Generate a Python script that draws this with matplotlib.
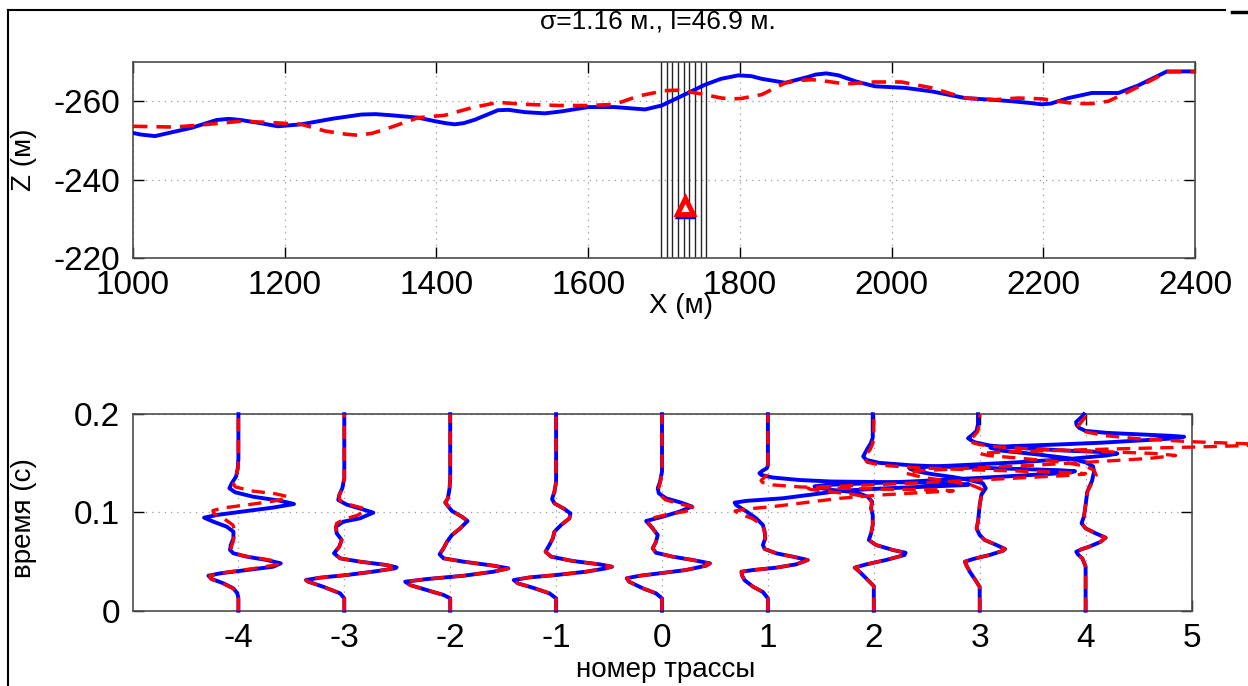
import matplotlib
matplotlib.use("Agg")
import matplotlib.pyplot as plt
import matplotlib.font_manager as fm
from matplotlib.lines import Line2D

# pick a narrow sans if it is there (the original looks condensed)
names = set(f.name for f in fm.fontManager.ttflist)
fam = 'Liberation Sans Narrow' if 'Liberation Sans Narrow' in names else 'Liberation Sans'
plt.rcParams['font.family'] = [fam, 'DejaVu Sans']
plt.rcParams['axes.unicode_minus'] = False

# ---------------- top panel: relief profiles ----------------
blue_x = [1000, 1010, 1029, 1077, 1110, 1126, 1142, 1165, 1191, 1222, 1262, 1301, 1320, 1341, 1376,
          1398, 1412, 1424, 1436, 1451, 1481, 1495, 1517, 1543, 1565, 1600, 1635, 1675, 1697, 1723,
          1754, 1775, 1798, 1815, 1829, 1860, 1890, 1900, 1914, 1930, 1952, 1978, 2018, 2053, 2097,
          2137, 2158, 2185, 2198, 2210, 2233, 2264, 2299, 2325, 2363, 2400]
blue_z = [-251.9, -251.5, -251.1, -253.2, -255.2, -255.5, -255.2, -254.5, -253.6, -254.1, -255.5,
          -256.6, -256.7, -256.4, -255.8, -254.9, -254.4, -254.1, -254.4, -255.3, -257.7, -257.8,
          -257.2, -256.9, -257.4, -258.5, -258.5, -257.9, -258.9, -261.3, -264.2, -265.7, -266.6,
          -266.4, -265.7, -264.7, -266.2, -266.8, -267.1, -266.6, -265.1, -263.8, -263.4, -262.5,
          -260.8, -260.3, -260.0, -259.5, -259.2, -259.4, -260.8, -262.1, -262.1, -264.0, -267.6,
          -267.6]

red_x = [1000, 1055, 1099, 1143, 1187, 1222, 1253, 1280, 1297, 1315, 1332, 1376, 1411, 1446, 1481,
         1517, 1561, 1600, 1635, 1666, 1701, 1719, 1745, 1776, 1790, 1802, 1829, 1860, 1880, 1895,
         1910, 1939, 1978, 2013, 2053, 2097, 2137, 2167, 2198, 2233, 2250, 2264, 2286, 2313, 2344,
         2363, 2400]
red_z = [-253.6, -253.4, -254.1, -254.9, -254.5, -254.1, -252.4, -251.6, -251.3, -251.8, -252.8,
         -255.8, -256.4, -258.3, -259.7, -259.2, -258.9, -258.9, -259.2, -261.3, -262.7, -262.8,
         -262.0, -260.8, -260.6, -260.7, -261.7, -264.7, -265.3, -265.5, -265.2, -264.4, -264.9,
         -264.9, -263.4, -260.8, -260.4, -260.8, -260.6, -259.6, -259.4, -259.4, -260.0, -262.5,
         -265.5, -267.5, -267.5]

receiver_x = [1696, 1703.5, 1711, 1718.5, 1726, 1733.5, 1741, 1748.5, 1756]
source_x, source_z = 1728, -233.2

# ---------------- bottom panel: traces (time, offset from trace number) ----------------
trace_nums = [-4, -3, -2, -1, 0, 1, 2, 3, 4]

blue_t = {
    -4: [0, 0.0126, 0.0177, 0.0227, 0.0278, 0.0322, 0.0356, 0.038, 0.0414, 0.0448, 0.0482, 0.0516,
         0.055, 0.0584, 0.0618, 0.0669, 0.0737, 0.0804, 0.0855, 0.0906, 0.0947, 0.0975, 0.1015,
         0.105, 0.1086, 0.112, 0.116, 0.1205, 0.1246, 0.1297, 0.1365, 0.145, 0.155, 0.2],
    -3: [0, 0.0126, 0.0177, 0.0244, 0.0295, 0.0312, 0.0336, 0.0363, 0.0397, 0.0431, 0.0441, 0.0465,
         0.0499, 0.0533, 0.0584, 0.0652, 0.072, 0.0788, 0.0855, 0.0906, 0.094, 0.0998, 0.104,
         0.108, 0.1127, 0.118, 0.1246, 0.135, 0.2],
    -2: [0, 0.0126, 0.016, 0.021, 0.026, 0.0295, 0.0322, 0.0356, 0.0397, 0.0431, 0.0458, 0.0499,
         0.0533, 0.0574, 0.0635, 0.070, 0.077, 0.0838, 0.0913, 0.0957, 0.1015, 0.110, 0.1144,
         0.1246, 0.135, 0.2],
    -1: [0, 0.0126, 0.0177, 0.0234, 0.0278, 0.0312, 0.0339, 0.0363, 0.0397, 0.0431, 0.0448, 0.0472,
         0.0506, 0.055, 0.060, 0.0669, 0.0737, 0.0804, 0.0872, 0.094, 0.099, 0.1035, 0.1093,
         0.1137, 0.1212, 0.131, 0.2],
    0: [0, 0.0126, 0.0177, 0.0227, 0.0295, 0.033, 0.0356, 0.038, 0.0414, 0.0458, 0.0482, 0.0516,
        0.055, 0.059, 0.0635, 0.070, 0.077, 0.0838, 0.0913, 0.0957, 0.1008, 0.106, 0.110, 0.1144,
        0.1195, 0.1246, 0.131, 0.1415, 0.2],
    1: [0, 0.0126, 0.019, 0.0244, 0.031, 0.036, 0.0397, 0.0414, 0.0438, 0.0472, 0.0516, 0.055,
        0.0584, 0.0628, 0.0669, 0.0737, 0.0804, 0.0872, 0.094, 0.1008, 0.1076, 0.110, 0.1118,
        0.1144, 0.118, 0.122, 0.1245, 0.1265, 0.1278, 0.1285, 0.1295, 0.1305, 0.131, 0.1315,
        0.133, 0.1355, 0.138, 0.140, 0.1425, 0.145, 0.148, 0.2],
    2: [0, 0.025, 0.0295, 0.0397, 0.0438, 0.0472, 0.0516, 0.0567, 0.059, 0.0618, 0.0669, 0.072,
        0.0788, 0.0872, 0.0974, 0.104, 0.111, 0.116, 0.1205, 0.123, 0.1255, 0.1265, 0.128, 0.1295,
        0.1315, 0.134, 0.137, 0.1395, 0.141, 0.142, 0.143, 0.1445, 0.146, 0.148, 0.1505, 0.1535,
        0.157, 0.161, 0.165, 0.170, 0.176, 0.2],
    3: [0, 0.024, 0.0295, 0.0397, 0.0472, 0.0499, 0.0526, 0.0567, 0.061, 0.0628, 0.0669, 0.072,
        0.077, 0.0838, 0.0906, 0.1076, 0.118, 0.1246, 0.1297, 0.133, 0.136, 0.139, 0.142, 0.1445,
        0.1465, 0.1485, 0.151, 0.1545, 0.158, 0.160, 0.1615, 0.163, 0.1655, 0.168, 0.1715, 0.1755,
        0.179, 0.183, 0.190, 0.2],
    4: [0, 0.045, 0.0533, 0.057, 0.060, 0.0625, 0.065, 0.070, 0.0743, 0.0788, 0.0838, 0.089,
        0.0957, 0.1076, 0.121, 0.132, 0.1415, 0.147, 0.151, 0.155, 0.159, 0.163, 0.166, 0.1675,
        0.169, 0.171, 0.1735, 0.1755, 0.177, 0.178, 0.1795, 0.181, 0.183, 0.186, 0.189, 0.192,
        0.195, 0.198, 0.2],
}
blue_dx = {
    -4: [0, 0, -0.01, -0.047, -0.14, -0.25, -0.283, -0.173, 0.079, 0.33, 0.40, 0.267, 0.079, -0.047,
         -0.079, -0.072, -0.047, -0.047, -0.11, -0.236, -0.324, -0.2, 0.08, 0.33, 0.525, 0.39, 0.14,
         -0.03, -0.085, -0.063, -0.022, -0.006, 0, 0],
    -3: [0, 0, -0.04, -0.2, -0.34, -0.362, -0.23, 0.022, 0.27, 0.478, 0.494, 0.40, 0.148, -0.04,
         -0.097, -0.047, -0.025, -0.072, -0.079, -0.01, 0.148, 0.274, 0.148, 0.022, -0.057, -0.047,
         -0.019, 0, 0],
    -2: [0, 0, -0.063, -0.22, -0.377, -0.425, -0.22, 0.126, 0.41, 0.55, 0.41, 0.126, -0.063, -0.1,
         -0.063, -0.031, 0.016, 0.094, 0.164, 0.11, 0.016, -0.047, -0.022, -0.006, 0, 0],
    -1: [0, 0, -0.063, -0.22, -0.36, -0.40, -0.25, 0, 0.283, 0.47, 0.528, 0.41, 0.157, -0.047, -0.1,
         -0.063, -0.031, -0.016, 0.047, 0.126, 0.135, 0.079, -0.016, -0.038, -0.016, 0, 0],
    0: [0, 0, -0.057, -0.18, -0.31, -0.333, -0.21, -0.025, 0.226, 0.415, 0.453, 0.29, 0.1, -0.057,
        -0.088, -0.057, -0.04, -0.088, -0.15, 0.006, 0.164, 0.283, 0.18, 0.038, -0.03, -0.04, -0.019,
        0, 0],
    1: [0, 0, -0.047, -0.14, -0.22, -0.245, -0.25, -0.14, 0.079, 0.267, 0.377, 0.236, 0.079, -0.031,
        -0.047, -0.025, -0.031, -0.047, -0.11, -0.2, -0.3, -0.314, -0.2, 0.14, 0.4, 0.68, 1.1, 1.55,
        1.85, 1.9, 1.75, 1.4, 1.0, 0.6, 0.3, 0.05, -0.06, -0.08, -0.05, -0.01, 0, 0],
    2: [0, 0, -0.04, -0.135, -0.18, -0.07, 0.116, 0.29, 0.3, 0.18, 0.02, -0.047, -0.025, -0.01,
        -0.01, -0.025, -0.016, -0.057, -0.167, -0.4, -0.54, -0.56, -0.45, -0.1, 0.35, 0.8, 1.3, 1.7,
        1.87, 1.9, 1.75, 1.3, 0.8, 0.35, 0.05, -0.07, -0.1, -0.08, -0.06, -0.03, -0.01, -0.01],
    3: [0, 0, -0.03, -0.094, -0.13, -0.14, -0.063, 0.094, 0.22, 0.24, 0.157, 0.047, 0, -0.03, -0.016,
        0, 0.016, 0.057, 0.03, -0.094, -0.25, -0.45, -0.6, -0.66, -0.5, -0.1, 0.35, 0.85, 1.2, 1.3,
        1.15, 0.8, 0.4, 0.1, -0.05, -0.11, -0.07, -0.03, -0.016, -0.016],
    4: [0, 0, -0.031, -0.07, -0.088, -0.04, 0.03, 0.14, 0.19, 0.094, 0, -0.038, -0.016, 0, 0.016,
        0.06, 0.08, 0.07, 0.0, -0.15, -0.45, -0.8, -0.9, -0.7, -0.3, 0.15, 0.55, 0.85, 0.93, 0.8, 0.5,
        0.2, 0.0, -0.06, -0.085, -0.09, -0.06, -0.03, -0.016],
}

red_t = {
    -4: [0, 0.0126, 0.0177, 0.0227, 0.0278, 0.0322, 0.0356, 0.039, 0.043, 0.047, 0.050, 0.053, 0.056,
         0.0595, 0.064, 0.070, 0.080, 0.087, 0.094, 0.099, 0.102, 0.1045, 0.108, 0.1115, 0.1145,
         0.116, 0.119, 0.122, 0.126, 0.129, 0.135, 0.145, 0.155, 0.2],
    -3: [0, 0.0126, 0.0177, 0.0244, 0.0295, 0.0312, 0.0336, 0.0363, 0.0397, 0.0431, 0.0441, 0.0465,
         0.0499, 0.0533, 0.0584, 0.0652, 0.072, 0.0788, 0.0855, 0.089, 0.093, 0.097, 0.1015,
         0.1045, 0.108, 0.112, 0.117, 0.124, 0.135, 0.2],
    -2: blue_t[-2],
    -1: blue_t[-1],
    0: [0, 0.0126, 0.0177, 0.0227, 0.0295, 0.033, 0.0356, 0.038, 0.0414, 0.0458, 0.0482, 0.0516,
        0.055, 0.059, 0.0635, 0.070, 0.077, 0.0838, 0.0913, 0.094, 0.098, 0.101, 0.104, 0.1065,
        0.109, 0.113, 0.118, 0.123, 0.131, 0.1415, 0.2],
    1: [0, 0.0126, 0.019, 0.0244, 0.031, 0.036, 0.0397, 0.0414, 0.0438, 0.0472, 0.0516, 0.055,
        0.0584, 0.0628, 0.0669, 0.0737, 0.0804, 0.087, 0.094, 0.099, 0.1015, 0.1035, 0.106, 0.110,
        0.1144, 0.118, 0.1205, 0.122, 0.123, 0.1235, 0.1245, 0.126, 0.128, 0.1305, 0.1325, 0.135,
        0.138, 0.141, 0.2],
    2: [0, 0.025, 0.0295, 0.0397, 0.0438, 0.0472, 0.0516, 0.0567, 0.059, 0.0618, 0.0669, 0.072,
        0.0788, 0.0872, 0.0974, 0.104, 0.111, 0.1155, 0.1185, 0.1215, 0.1235, 0.1245, 0.126, 0.1275,
        0.1295, 0.132, 0.135, 0.1375, 0.1388, 0.1395, 0.1405, 0.142, 0.1435, 0.1455, 0.148, 0.151,
        0.155, 0.159, 0.164, 0.170, 0.178, 0.2],
    3: [0, 0.024, 0.0295, 0.0397, 0.0472, 0.0499, 0.0526, 0.0567, 0.061, 0.0628, 0.0669, 0.072,
        0.077, 0.0838, 0.0906, 0.1076, 0.116, 0.122, 0.128, 0.132, 0.136, 0.140, 0.1425, 0.145,
        0.148, 0.152, 0.155, 0.158, 0.160, 0.162, 0.164, 0.1665, 0.169, 0.172, 0.176, 0.182, 0.19,
        0.2],
    4: [0, 0.045, 0.0533, 0.057, 0.060, 0.0625, 0.065, 0.070, 0.0743, 0.0788, 0.0838, 0.089,
        0.0957, 0.1076, 0.121, 0.13, 0.138, 0.143, 0.147, 0.151, 0.155, 0.158, 0.160, 0.1615, 0.163,
        0.165, 0.1665, 0.168, 0.169, 0.170, 0.172, 0.175, 0.178, 0.182, 0.185, 0.188, 0.192, 0.196,
        0.2],
}
red_dx = {
    -4: [0, 0, -0.01, -0.05, -0.15, -0.26, -0.27, -0.12, 0.15, 0.37, 0.38, 0.22, 0.04, -0.05, -0.07,
         -0.05, -0.035, -0.05, -0.14, -0.235, -0.24, -0.15, 0.1, 0.33, 0.46, 0.47, 0.35, 0.12, -0.03,
         -0.047, -0.025, -0.005, 0, 0],
    -3: [0, 0, -0.04, -0.2, -0.34, -0.362, -0.23, 0.022, 0.27, 0.478, 0.494, 0.40, 0.148, -0.04,
         -0.097, -0.047, -0.025, -0.072, -0.079, -0.072, 0.0, 0.12, 0.2, 0.17, 0.05, -0.04, -0.05,
         -0.02, 0, 0],
    -2: blue_dx[-2],
    -1: blue_dx[-1],
    0: [0, 0, -0.057, -0.18, -0.31, -0.333, -0.21, -0.025, 0.226, 0.415, 0.453, 0.29, 0.1, -0.057,
        -0.088, -0.057, -0.04, -0.088, -0.14, -0.1, 0.05, 0.22, 0.31, 0.26, 0.15, 0.03, -0.02,
        -0.035, -0.015, 0, 0],
    1: [0, 0, -0.047, -0.14, -0.22, -0.245, -0.25, -0.14, 0.079, 0.267, 0.377, 0.236, 0.079, -0.031,
        -0.047, -0.025, -0.031, -0.05, -0.15, -0.28, -0.31, -0.2, 0.05, 0.35, 0.68, 1.1, 1.5, 1.75,
        1.6, 1.2, 0.68, 0.3, 0.05, -0.05, -0.065, -0.04, -0.01, 0, 0],
    2: [0, 0, -0.04, -0.135, -0.18, -0.07, 0.116, 0.29, 0.3, 0.18, 0.02, -0.047, -0.025, -0.01,
        -0.01, -0.025, -0.02, -0.05, -0.2, -0.45, -0.6, -0.62, -0.5, -0.15, 0.3, 0.8, 1.35, 1.8,
        1.97, 2.0, 1.85, 1.4, 0.9, 0.4, 0.08, -0.06, -0.09, -0.07, -0.035, -0.01, 0, 0],
    3: [0, 0, -0.03, -0.094, -0.13, -0.14, -0.063, 0.094, 0.22, 0.24, 0.157, 0.047, 0, -0.03,
        -0.016, 0, 0.016, 0.05, -0.08, -0.3, -0.55, -0.7, -0.55, -0.1, 0.5, 1.15, 1.6, 1.85, 1.65,
        1.15, 0.6, 0.2, 0.0, -0.1, -0.07, -0.02, 0, 0],
    4: [0, 0, -0.031, -0.07, -0.088, -0.04, 0.03, 0.14, 0.19, 0.094, 0, -0.038, -0.016, 0, 0.016,
        0.06, 0.1, 0.08, 0.0, -0.2, -0.6, -0.92, -1.0, -0.8, -0.3, 0.4, 1.0, 1.5, 1.7, 1.5, 1.0, 0.5,
        0.2, 0.0, -0.06, -0.07, -0.04, -0.01, 0],
}

BLUE = '#0000ff'
RED = '#ff0000'
GRIDC = '0.6'

fig = plt.figure(figsize=(12.48, 6.86), dpi=100)

# page-like frame lines
fig.add_artist(Line2D([8/1248, 1225/1248], [1 - 10/686, 1 - 10/686], color='k', lw=1.5))
fig.add_artist(Line2D([8/1248, 8/1248], [1 - 10/686, 0], color='k', lw=1.5))
fig.add_artist(Line2D([1232/1248, 1.0], [1 - 12/686, 1 - 12/686], color='k', lw=2.5))

fig.text(0.527, 1 - 22/686, 'σ=1.16 м., l=46.9 м.', ha='center', va='center', fontsize=19)


def style(ax):
    ax.tick_params(direction='in', top=True, right=True, length=8, width=1,
                   labelsize=24, pad=9, colors='k')
    for s in ax.spines.values():
        s.set_color('0.3')
        s.set_linewidth(1.2)
    ax.grid(True, color=GRIDC, linestyle=(0, (1, 4)), linewidth=0.9)
    ax.set_axisbelow(True)


# top axes
ax1 = fig.add_axes([133/1248, 1 - 258/686, 1062/1248, 196/686])
style(ax1)
for xr in receiver_x:
    ax1.axvline(xr, color='0.15', lw=1.0, zorder=2)
ax1.plot(blue_x, blue_z, color=BLUE, lw=2.8, zorder=3, solid_joinstyle='round')
ax1.plot(red_x, red_z, color=RED, lw=2.6, ls=(0, (4, 2.5)), zorder=4)
ax1.plot([source_x], [source_z + 0.6], marker='^', ms=12, mfc='none', mec=BLUE, mew=2.5,
         ls='none', zorder=5)
ax1.plot([source_x], [source_z], marker='^', ms=12, mfc='white', mec=RED, mew=3.5,
         ls='none', zorder=6)
ax1.set_xlim(1000, 2400)
ax1.set_ylim(-220, -270)
ax1.set_xticks(range(1000, 2401, 200))
ax1.set_yticks([-260, -240, -220])
ax1.set_xlabel('X (м)', fontsize=20)
ax1.xaxis.set_label_coords(0.516, -0.18)
ax1.set_ylabel('Z (м)', fontsize=20)
ax1.yaxis.set_label_coords(-0.09, 0.5)

# bottom axes
ax2 = fig.add_axes([132.5/1248, 1 - 610.7/686, 1059/1248, 196.5/686])
style(ax2)
for k in trace_nums:
    ax2.plot([k + d for d in blue_dx[k]], blue_t[k], color=BLUE, lw=2.8, zorder=3,
             solid_joinstyle='round', clip_on=False)
for k in trace_nums:
    ax2.plot([k + d for d in red_dx[k]], red_t[k], color=RED, lw=2.4, ls=(0, (4, 2.5)),
             zorder=4, clip_on=False)
ax2.set_xlim(-5, 5)
ax2.set_ylim(0, 0.2)
ax2.set_xticks(range(-4, 6))
ax2.set_yticks([0, 0.1, 0.2])
ax2.set_yticklabels(['0', '0.1', '0.2'])
ax2.set_xlabel('номер трассы', fontsize=20)
ax2.xaxis.set_label_coords(0.503, -0.235)
ax2.set_ylabel('время (с)', fontsize=20)
ax2.yaxis.set_label_coords(-0.09, 0.47)

fig.savefig('out.png', dpi=100)
